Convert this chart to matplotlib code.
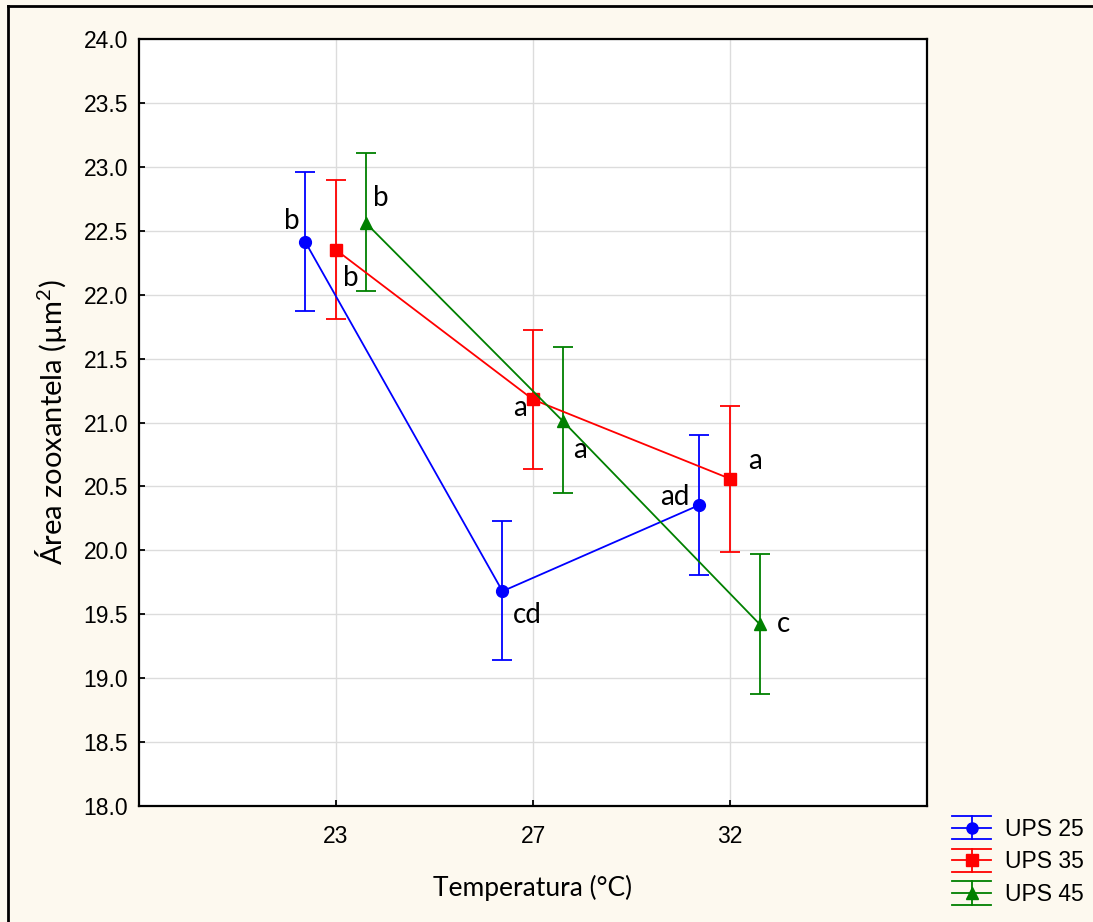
import matplotlib
matplotlib.use("Agg")
import matplotlib.pyplot as plt
import numpy as np
from matplotlib.lines import Line2D
from matplotlib.legend_handler import HandlerBase

# ---- data ----
temps = ["23", "27", "32"]
series = ["UPS 25", "UPS 35", "UPS 45"]
ups25_mean = [22.41, 19.68, 20.355]
ups25_low = [21.87, 19.14, 19.81]
ups25_high = [22.96, 20.23, 20.90]
ups35_mean = [22.35, 21.18, 20.56]
ups35_low = [21.81, 20.64, 19.99]
ups35_high = [22.90, 21.72, 21.13]
ups45_mean = [22.56, 21.01, 19.42]
ups45_low = [22.03, 20.45, 18.88]
ups45_high = [23.11, 21.59, 19.97]
ups25_letters = ["b", "cd", "ad"]
ups35_letters = ["b", "a", "a"]
ups45_letters = ["b", "a", "c"]
yticks = [18.0, 18.5, 19.0, 19.5, 20.0, 20.5, 21.0, 21.5, 22.0, 22.5, 23.0, 23.5, 24.0]

plt.rcParams["mathtext.fontset"] = "custom"
plt.rcParams["mathtext.rm"] = "Lato"
plt.rcParams["mathtext.it"] = "Lato:italic"

BG = "#fdf9ef"
fig = plt.figure(figsize=(10.93, 9.22), dpi=100, facecolor=BG, linewidth=0)
ax = fig.add_axes([139/1093, 1-806/922, (927-139)/1093, (806-39)/922])
ax.set_facecolor("white")

x = np.arange(len(temps))
offsets = [-0.155, 0.0, 0.152]
colors = ["#0000ff", "#ff0000", "#008000"]
markers = ["o", "s", "^"]
msizes = [8.5, 8.5, 8.5]
means = [ups25_mean, ups35_mean, ups45_mean]
lows = [ups25_low, ups35_low, ups45_low]
highs = [ups25_high, ups35_high, ups45_high]

conts = []
for i in range(3):
    m = np.array(means[i]); lo = np.array(lows[i]); hi = np.array(highs[i])
    c = ax.errorbar(x + offsets[i], m, yerr=[m - lo, hi - m], color=colors[i],
                    marker=markers[i], markersize=msizes[i], lw=1.3, elinewidth=1.3,
                    capsize=7, capthick=1.3, zorder=3, label=series[i])
    conts.append(c)

lab_font = dict(family=["Lato", "DejaVu Sans"], fontsize=20, color="black")
letters = [ups25_letters, ups35_letters, ups45_letters]
ann_off = [
    [(-10, 15), (18, -17), (-18, 6)],
    [(11, -20), (-9, -6), (18, 13)],
    [(11, 18), (12, -21), (17, 0)],
]
for i in range(3):
    for j in range(3):
        dx, dy = ann_off[i][j]
        ax.annotate(letters[i][j], (x[j] + offsets[i], means[i][j]),
                    xytext=(dx, dy), textcoords="offset points",
                    ha="center", va="center", **lab_font)

ax.set_xlim(-1, 3)
ax.set_ylim(18, 24)
ax.set_xticks(x)
ax.set_xticklabels(temps)
ax.set_yticks(yticks)
ax.set_yticklabels([f"{v:.1f}" for v in yticks])
ax.grid(True, color="#dcdcdc", lw=1.0, zorder=0)
ax.set_axisbelow(True)
for s in ax.spines.values():
    s.set_linewidth(1.6)
    s.set_color("black")
ax.tick_params(direction="in", length=4, width=1.3, labelsize=16.5, colors="black")
ax.tick_params(axis="x", pad=14)
ax.tick_params(axis="y", pad=8)
for t in ax.get_xticklabels() + ax.get_yticklabels():
    t.set_family(["Liberation Sans", "DejaVu Sans"])

ax.set_xlabel("Temperatura (°C)", family=["Lato", "DejaVu Sans"], fontsize=19, labelpad=19)
ax.set_ylabel(r"Área zooxantela (µm$^{2}$)", family=["Lato", "DejaVu Sans"], fontsize=21, labelpad=10)


class ErrHandler(HandlerBase):
    def create_artists(self, legend, orig_handle, xdescent, ydescent, width, height,
                       fontsize, trans):
        line = orig_handle.lines[0]
        col = line.get_color()
        mk = line.get_marker()
        cy = height / 2 - ydescent
        h = 8.5
        arts = []
        for yy in (cy - h, cy, cy + h):
            arts.append(Line2D([-xdescent, -xdescent + width], [yy, yy], color=col, lw=1.3))
        arts.append(Line2D([width / 2 - xdescent] * 2, [cy - h, cy + h], color=col, lw=1.3))
        arts.append(Line2D([width / 2 - xdescent], [cy], color=col, marker=mk,
                           markersize=8, linestyle="none"))
        for a in arts:
            a.set_transform(trans)
        return arts


leg = fig.legend(conts, series, loc="lower left", bbox_to_anchor=(936/1093, 0),
                 handler_map={type(conts[0]): ErrHandler()}, frameon=False,
                 prop={"family": ["Liberation Sans", "DejaVu Sans"], "size": 16.5},
                 handlelength=1.7, handletextpad=0.6, labelspacing=0.42,
                 borderpad=0.2)

fig.add_artist(Line2D([8/1093, 8/1093], [0, 1-6/922], color="black", lw=2,
                      transform=fig.transFigure))
fig.add_artist(Line2D([8/1093, 1], [1-6/922, 1-6/922], color="black", lw=2,
                      transform=fig.transFigure))

fig.savefig("out.png", dpi=100, facecolor=BG)
